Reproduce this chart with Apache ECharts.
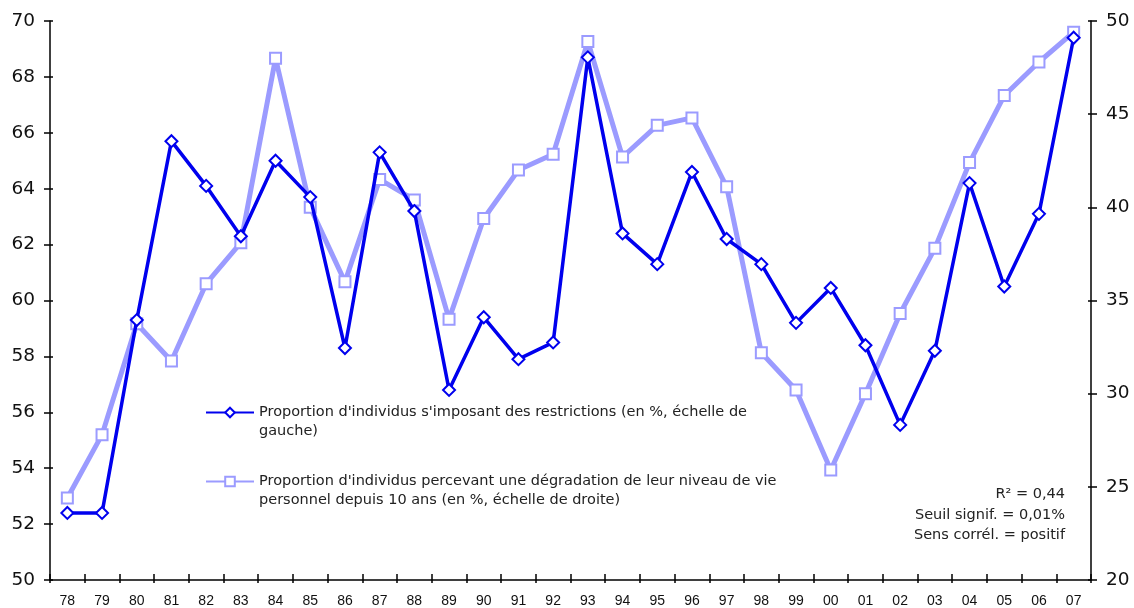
<!DOCTYPE html>
<html>
<head>
<meta charset="utf-8">
<script src="https://cdn.jsdelivr.net/npm/echarts@6/dist/echarts.min.js"></script>
<style>html,body{margin:0;padding:0;background:#fff;}#c{width:1134px;height:608px;}</style>
</head>
<body>
<div id="c"></div>
<script>
const years = ['78','79','80','81','82','83','84','85','86','87','88','89','90','91','92','93','94','95','96','97','98','99','00','01','02','03','04','05','06','07'];
const restrictions = [52.4,52.4,59.3,65.7,64.1,62.3,65.0,63.7,58.3,65.3,63.2,56.8,59.4,57.9,58.5,68.7,62.4,61.3,64.6,62.2,61.3,59.2,60.45,58.4,55.55,58.2,64.2,60.5,63.1,69.4];
const degradation = [24.4,27.8,33.75,31.75,35.9,38.1,48.0,40.0,36.0,41.5,40.4,34.0,39.4,42.0,42.85,48.9,42.7,44.4,44.8,41.1,32.2,30.2,25.9,30.0,34.3,37.8,42.4,46.0,47.8,49.4];
const leftTicks = {min: 50, max: 70, interval: 2};
const rightTicks = {min: 20, max: 50, interval: 5};
const name1 = "Proportion d'individus s'imposant des restrictions (en %, échelle de gauche)";
const name2 = "Proportion d'individus percevant une dégradation de leur niveau de vie personnel depuis 10 ans (en %, échelle de droite)";
const legendText = {};
legendText[name1] = " \nProportion d'individus s'imposant des restrictions (en %, échelle de\ngauche)";
legendText[name2] = " \nProportion d'individus percevant une dégradation de leur niveau de vie\npersonnel depuis 10 ans (en %, échelle de droite)";
const notes = ['R² = 0,44', 'Seuil signif. = 0,01%', 'Sens corrél. = positif'];

const chart = echarts.init(document.getElementById('c'), null, {renderer: 'canvas'});
const axisLine = {show: true, lineStyle: {color: '#000', width: 1.5}};
function yAx(pos, t, inside, labels, margin) {
  return {
    type: 'value', position: pos, min: t.min, max: t.max, interval: t.interval,
    axisLine: inside ? {show: false} : axisLine,
    axisTick: {show: true, inside: inside, length: inside ? 3 : 6, lineStyle: {color: '#000', width: 1.5}},
    axisLabel: labels ? {color: '#111', fontFamily: 'DejaVu Sans', fontSize: 18.5, margin: margin} : {show: false},
    splitLine: {show: false}
  };
}
const option = {
  animation: false,
  backgroundColor: '#fff',
  grid: {left: 50, right: 43, top: 21, bottom: 27, containLabel: false},
  xAxis: [
    {
      type: 'category', data: years, boundaryGap: true,
      axisLine: axisLine,
      axisTick: {show: true, inside: true, length: 6, alignWithLabel: false, lineStyle: {color: '#000', width: 1.5}},
      axisLabel: {color: '#111', fontFamily: 'Liberation Sans', fontSize: 14, margin: 14, interval: 0},
      splitLine: {show: false}
    },
    {
      type: 'category', data: years, boundaryGap: true, position: 'bottom',
      axisLine: {show: false},
      axisTick: {show: true, inside: false, length: 3, lineStyle: {color: '#000', width: 1.5}},
      axisLabel: {show: false}, splitLine: {show: false}
    }
  ],
  yAxis: [
    yAx('left', leftTicks, false, true, 15),
    yAx('right', rightTicks, false, true, 15),
    yAx('left', leftTicks, true, false, 0),
    yAx('right', rightTicks, true, false, 0)
  ],
  legend: {
    left: 200, top: 379, orient: 'vertical', itemGap: 12,
    itemWidth: 48, itemHeight: 12,
    data: [name1, name2],
    formatter: n => legendText[n],
    textStyle: {color: '#222', fontFamily: 'DejaVu Sans', fontSize: 14.5, lineHeight: 19},
    selectedMode: false
  },
  graphic: notes.map((t, i) => ({
    type: 'text', right: 69, top: 487 + i * 20.5,
    style: {text: t, fill: '#222', font: '14.5px "DejaVu Sans"', textAlign: 'right'}
  })),
  series: [
    {
      name: name2, type: 'line', xAxisIndex: 0, yAxisIndex: 1, data: degradation,
      symbol: 'rect', symbolSize: 11,
      lineStyle: {color: '#9b9bff', width: 5},
      itemStyle: {color: '#fff', borderColor: '#9b9bff', borderWidth: 2},
      z: 2
    },
    {
      name: name1, type: 'line', xAxisIndex: 0, yAxisIndex: 0, data: restrictions,
      symbol: 'diamond', symbolSize: [12, 12],
      lineStyle: {color: '#0000ee', width: 3.5},
      itemStyle: {color: '#fff', borderColor: '#0000ee', borderWidth: 2},
      z: 3
    }
  ]
};
chart.setOption(option);
</script>
</body>
</html>
